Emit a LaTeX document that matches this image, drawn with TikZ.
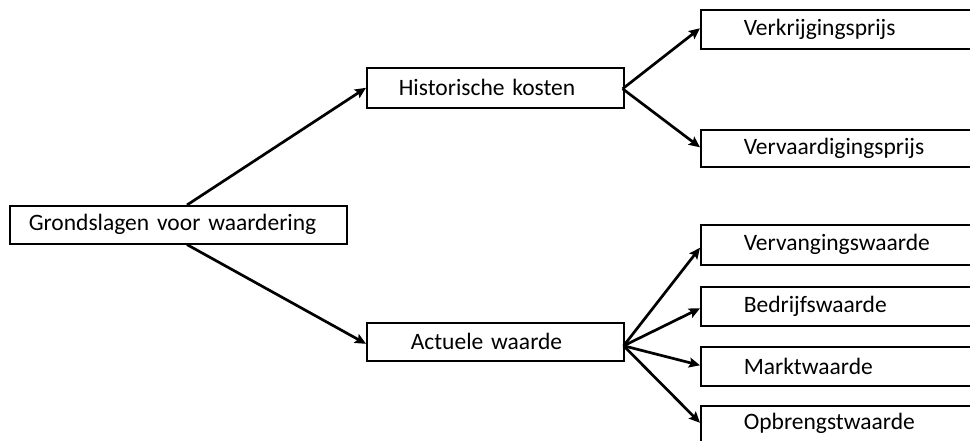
\documentclass[tikz,border=0pt]{standalone}
\usepackage{fontspec}
\setmainfont[WordSpace=0.85]{Carlito}
\usetikzlibrary{arrows.meta,calc}
\tikzset{
  box/.style={draw=black, line width=1.6pt, rectangle, inner ysep=0pt, anchor=north west,
    font=\fontsize{23.5}{26}\selectfont, align=left},
  arr/.style={line width=2.7pt, -{Stealth[length=11pt,width=10pt,inset=2pt]}},
}
\begin{document}
\begin{tikzpicture}[x=1pt,y=-1pt]
\useasboundingbox (0,0) rectangle (970,441);
\clip (0,0) rectangle (970,441);
% left node
\node[box, minimum width=337pt, minimum height=38pt, text width=299pt, inner xsep=19pt] (g) at (9,205) {Grondslagen voor waardering};
% middle nodes
\node[box, minimum width=257pt, minimum height=40pt, text width=193pt, inner xsep=32pt] (h) at (366,67) {Historische kosten};
\node[box, minimum width=257pt, minimum height=38pt, text width=169pt, inner xsep=44pt] (a) at (366,322) {Actuele waarde};
% right nodes (cut by the right edge)
\node[box, minimum width=320pt, minimum height=39pt, text width=234pt, inner xsep=43pt] (v1) at (700,9) {Verkrijgingsprijs};
\node[box, minimum width=320pt, minimum height=37pt, text width=234pt, inner xsep=43pt] (v2) at (700,129) {Vervaardigingsprijs};
\node[box, minimum width=320pt, minimum height=40pt, text width=234pt, inner xsep=43pt] (w1) at (700,224) {Vervangingswaarde};
\node[box, minimum width=320pt, minimum height=39pt, text width=234pt, inner xsep=43pt] (w2) at (700,286) {Bedrijfswaarde};
\node[box, minimum width=320pt, minimum height=39pt, text width=234pt, inner xsep=43pt] (w3) at (700,346) {Marktwaarde};
\node[box, minimum width=320pt, minimum height=36pt, text width=234pt, inner xsep=43pt] (w4) at (700,405) {Opbrengstwaarde};
% connectors
\draw[arr] ($(g.north west)+(178,0)$) -- (h.west);
\draw[arr] ($(g.south west)+(178,0)$) -- ($(a.west)+(0,2)$);
\draw[arr] ($(h.east)+(-2,1)$) -- ($(v1.west)+(0,-1)$);
\draw[arr] ($(h.east)+(-2,1)$) -- ($(v2.west)+(0,-1)$);
\draw[arr] ($(a.east)+(-1,4)$) -- ($(w1.west)+(0,3)$);
\draw[arr] ($(a.east)+(-1,4)$) -- ($(w2.west)+(0,2)$);
\draw[arr] ($(a.east)+(-1,4)$) -- ($(w3.west)+(0,-1)$);
\draw[arr] ($(a.east)+(-1,4)$) -- ($(w4.west)+(0,-1)$);
\end{tikzpicture}
\end{document}
